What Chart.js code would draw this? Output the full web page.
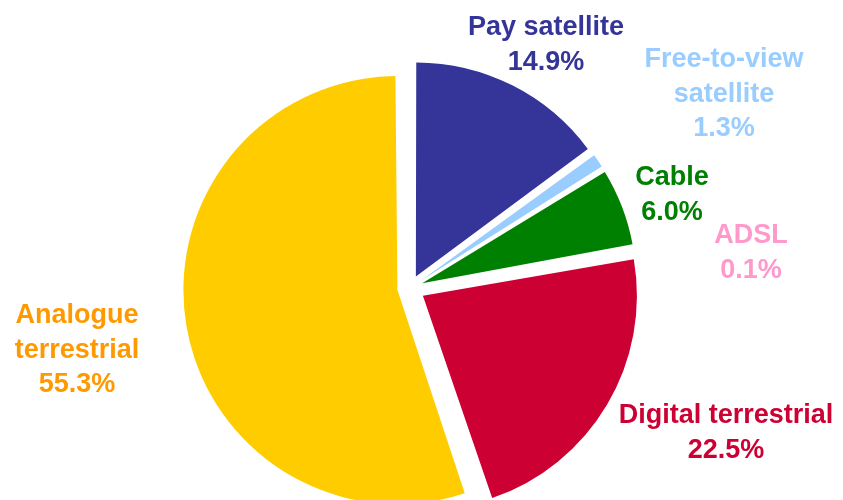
<!DOCTYPE html>
<html>
<head>
<meta charset="utf-8">
<script src="https://cdn.jsdelivr.net/npm/chart.js@4/dist/chart.umd.min.js"></script>
<style>
  html,body{margin:0;padding:0;background:#fff;}
  #c{display:block;}
</style>
</head>
<body>
<canvas id="c" width="843" height="500"></canvas>
<script>
/* ---------- data ---------- */
const categories = ['Pay satellite','Free-to-view satellite','Cable','ADSL','Digital terrestrial','Analogue terrestrial'];
const shares     = [14.9, 1.3, 6.0, 0.1, 22.5, 55.3];
const labelLines = [['Pay satellite'],['Free-to-view','satellite'],['Cable'],['ADSL'],['Digital terrestrial'],['Analogue','terrestrial']];

/* ---------- styles ---------- */
const sliceColors = ['#343499','#99ccff','#008000','#ff99cc','#cc0033','#ffcc00'];
const textColors  = ['#343499','#99ccff','#008000','#ff99cc','#cc0033','#ff9900'];
// Chart.js v4 arc draws offset/4, so these are 4x the pixel shift
const sliceOffset = [52, 52, 52, 52, 60, 51];
// first-line baseline of each label, relative to pie centre
const labelAnchor = [[136,-253],[314,-221],[262,-103],[341,-45],[316,135],[-333,35]];
const LINE_H = 34.5;

/* ---------- keep exploded slices at the same radius ---------- */
// v4 grows the outer radius of an offset arc by offset*(1-sin(circ)); undo that
const evenRadius = {
  id:'evenRadius',
  beforeDatasetsDraw(chart){
    const meta = chart.getDatasetMeta(0);
    const R = meta.controller.outerRadius;
    meta.data.forEach((arc,i)=>{
      const circ = arc.endAngle - arc.startAngle;
      const fix = 1 - Math.sin(Math.min(Math.PI, circ));
      arc.outerRadius = R - (sliceOffset[i]/4)*fix;
    });
  }
};

/* ---------- label plugin ---------- */
const sliceLabels = {
  id:'sliceLabels',
  afterDatasetsDraw(chart){
    const ctx = chart.ctx;
    const arcs = chart.getDatasetMeta(0).data;
    const cx = arcs[0].x, cy = arcs[0].y;
    ctx.save();
    ctx.font = 'bold 27px "Liberation Sans", Arial, sans-serif';
    ctx.textAlign = 'center';
    ctx.textBaseline = 'alphabetic';
    labelLines.forEach((lines,i)=>{
      const all = [...lines, shares[i].toFixed(1)+'%'];
      const [dx,dy] = labelAnchor[i];
      ctx.fillStyle = textColors[i];
      all.forEach((t,k)=> ctx.fillText(t, cx+dx, cy+dy+k*LINE_H));
    });
    ctx.restore();
  }
};

/* ---------- chart ---------- */
new Chart(document.getElementById('c').getContext('2d'),{
  type:'pie',
  data:{
    labels:categories,
    datasets:[{
      data:shares,
      backgroundColor:sliceColors,
      borderWidth:0,
      offset:sliceOffset,
      hoverOffset:0,
      clip:false
    }]
  },
  options:{
    responsive:false,
    animation:false,
    radius:214,
    layout:{ padding:{ left:200, right:223, top:78, bottom:2 } },
    plugins:{ legend:{display:false}, tooltip:{enabled:false} }
  },
  plugins:[evenRadius, sliceLabels]
});
</script>
</body>
</html>
